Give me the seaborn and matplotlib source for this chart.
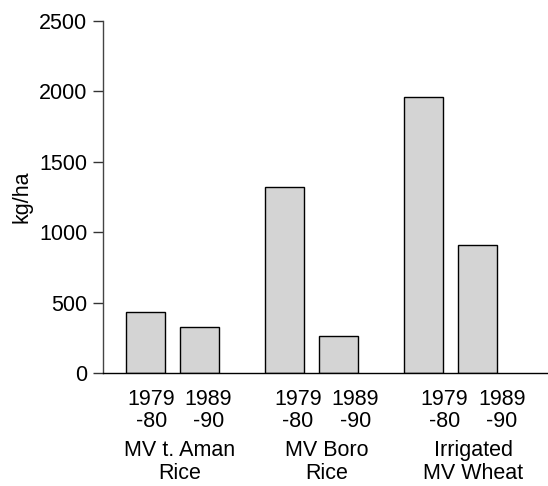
import pandas as pd
import seaborn as sns
import matplotlib.pyplot as plt

sns.set_style("ticks")
plt.rcParams['font.family'] = ['Liberation Sans', 'DejaVu Sans']
plt.rcParams['text.color'] = 'black'
plt.rcParams['axes.labelcolor'] = 'black'
plt.rcParams['ytick.labelcolor'] = 'black'

crops = ["MV t. Aman\nRice", "MV Boro\nRice", "Irrigated\nMV Wheat"]
periods = ["1979\n-80", "1989\n-90"]
yield_1979_80 = [437, 1322, 1963]
yield_1989_90 = [331, 265, 910]
y_ticks = [0, 500, 1000, 1500, 2000, 2500]

df = pd.DataFrame({
    "crop": crops * 2,
    "period": [periods[0]] * 3 + [periods[1]] * 3,
    "yield": yield_1979_80 + yield_1989_90,
})

fs = 15.5
fig = plt.figure(figsize=(5.48, 4.86), dpi=100)
ax = fig.add_axes([0.1874, 0.2319, 0.8126, 0.7251])

sns.barplot(data=df, x="crop", y="yield", hue="period", order=crops,
            hue_order=periods, palette=["#d4d4d4", "#d4d4d4"],
            edgecolor="black", linewidth=1.0, width=0.78, gap=0.28,
            legend=False, ax=ax, zorder=2)

ax.set_xlim(-0.502, 2.70)
ax.set_ylim(0, 2500)
ax.set_yticks(y_ticks)
ax.tick_params(axis="y", labelsize=fs, length=7, width=1, pad=4, color="#333333")
ax.set_xticks([])
ax.set_xlabel("")
ax.set_ylabel("kg/ha", fontsize=fs, labelpad=5)
sns.despine(ax=ax)
ax.spines["left"].set_color("#444444")
ax.spines["bottom"].set_color("black")
ax.spines["left"].set_linewidth(1)
ax.spines["bottom"].set_linewidth(1)

# labels under bars (slightly stretched like the original layout)
trans = ax.get_xaxis_transform()
for p, patch in zip(df["period"], ax.patches):
    xc = patch.get_x() + patch.get_width() / 2
    xl = 1.054 * xc + 0.054
    ax.annotate(p, xy=(xl, 0), xycoords=trans, xytext=(0, -11),
                textcoords="offset points", ha="center", va="top",
                fontsize=fs, linespacing=1.1)
for i, c in enumerate(crops):
    xl = 1.054 * i + 0.054
    ax.annotate(c, xy=(xl, 0), xycoords=trans, xytext=(0, -48),
                textcoords="offset points", ha="center", va="top",
                fontsize=fs, linespacing=1.1)

fig.savefig("out.png", dpi=100)
